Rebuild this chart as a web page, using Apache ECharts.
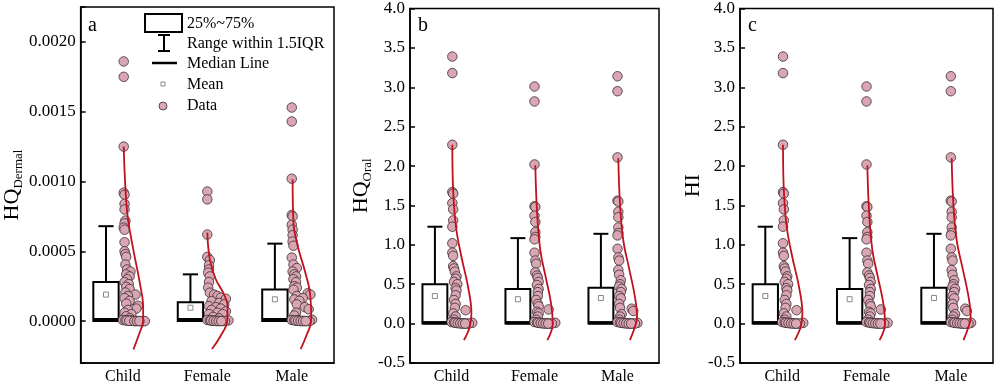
<!DOCTYPE html>
<html>
<head>
<meta charset="utf-8">
<script src="https://cdn.jsdelivr.net/npm/echarts@6/dist/echarts.min.js"></script>
<style>
  html, body { margin: 0; background: #fff; }
  #chart { width: 996px; height: 385px; }
</style>
</head>
<body>
<div id="chart"></div>
<script>
const groups = ['Child', 'Female', 'Male'];

// box stats per group: [q1, median, q3, whisker low, whisker high, mean]
const dermalBox = [
  [0, 0.00001, 0.00028, 0, 0.00068, 0.00019],
  [0, 0.00001, 0.000136, 0, 0.000335, 0.000096],
  [0, 0.00001, 0.000227, 0, 0.000555, 0.000156]
];
const oralBox = [
  [0, 0.01, 0.50, 0, 1.23, 0.35],
  [0, 0.01, 0.44, 0, 1.085, 0.31],
  [0, 0.01, 0.455, 0, 1.14, 0.325]
];
const hiBox = oralBox; // HI is visually identical to HQ_Oral

// HQ dermal points (x1e-3) and their horizontal jitter (category units)
const dermalChild = [1.86, 1.75, 1.25, 0.92, 0.905, 0.84, 0.80, 0.72, 0.70, 0.67, 0.655, 0.565, 0.50, 0.48, 0.46, 0.405, 0.37, 0.355, 0.335, 0.32, 0.30, 0.28, 0.265, 0.245, 0.23, 0.205, 0.19, 0.18, 0.165, 0.145, 0.125, 0.11, 0.09, 0.08, 0.06, 0.05, 0.035, 0.02, 0.008, 0.006, 0.004, 0.003, 0.002, 0.001, 0.001, 0, 0, 0, 0.005, 0.003, 0.002, 0, 0, 0];
const dermalChildJit = [0.01, 0.01, 0.01, 0.01, 0.02, 0.02, 0.02, 0.03, 0.02, 0.01, 0.02, 0.02, 0.02, 0.03, 0.04, 0.03, 0.05, 0.09, 0.04, 0.08, 0.05, 0.02, 0.07, 0.04, 0.08, 0.03, 0.15, 0.06, 0.02, 0.08, 0.04, 0.18, 0.16, 0.06, 0.02, 0.10, 0.04, 0.08, 0.00, 0.03, 0.06, 0.09, 0.12, 0.15, 0.18, 0.21, 0.24, 0.26, 0.045, 0.11, 0.075, 0.135, 0.165, 0.195];
const dermalFemale = [0.928, 0.872, 0.62, 0.46, 0.437, 0.40, 0.37, 0.347, 0.32, 0.28, 0.24, 0.204, 0.19, 0.18, 0.168, 0.16, 0.143, 0.13, 0.12, 0.107, 0.10, 0.09, 0.08, 0.07, 0.06, 0.05, 0.05, 0.03, 0.02, 0.005, 0.008, 0.006, 0.004, 0.003, 0.002, 0.001, 0.001, 0, 0.004, 0.002, 0, 0, 0];
const dermalFemaleJit = [0.0, 0.0, 0.0, 0.0, 0.03, 0.02, 0.02, 0.01, 0.03, 0.02, 0.01, 0.03, 0.08, 0.12, 0.16, 0.22, 0.05, 0.14, 0.20, 0.02, 0.10, 0.16, 0.05, 0.22, 0.12, 0.02, 0.18, 0.07, 0.14, 0.25, 0.0, 0.03, 0.06, 0.09, 0.12, 0.15, 0.18, 0.21, 0.045, 0.075, 0.105, 0.135, 0.165];
const dermalMale = [1.53, 1.43, 1.02, 0.76, 0.75, 0.69, 0.655, 0.615, 0.57, 0.54, 0.455, 0.405, 0.38, 0.355, 0.335, 0.32, 0.30, 0.28, 0.25, 0.24, 0.225, 0.20, 0.19, 0.18, 0.165, 0.155, 0.145, 0.12, 0.10, 0.085, 0.06, 0.04, 0.01, 0.008, 0.006, 0.004, 0.003, 0.002, 0.001, 0.001, 0, 0.004, 0.002, 0, 0, 0];
const dermalMaleJit = [0.0, 0.0, 0.0, 0.0, 0.01, 0.0, 0.01, 0.01, 0.01, 0.02, 0.0, 0.02, 0.06, 0.01, 0.03, 0.05, 0.02, 0.05, 0.03, 0.06, 0.02, 0.19, 0.22, 0.06, 0.13, 0.03, 0.09, 0.06, 0.155, 0.20, 0.05, 0.03, 0.24, 0.0, 0.03, 0.06, 0.09, 0.12, 0.15, 0.18, 0.21, 0.045, 0.075, 0.105, 0.135, 0.165];

// HQ oral points and jitter
const oralChild = [3.39, 3.18, 2.27, 1.67, 1.65, 1.53, 1.45, 1.31, 1.23, 1.02, 0.90, 0.86, 0.73, 0.70, 0.66, 0.60, 0.57, 0.53, 0.50, 0.45, 0.42, 0.36, 0.30, 0.25, 0.20, 0.17, 0.13, 0.09, 0.05, 0.01, 0.02, 0.015, 0.01, 0.008, 0.005, 0.004, 0.002, 0, 0.01, 0.006, 0.003, 0, 0];
const oralChildJit = [0.01, 0.01, 0.01, 0.01, 0.02, 0.01, 0.02, 0.02, 0.01, 0.01, 0.01, 0.02, 0.02, 0.03, 0.04, 0.06, 0.05, 0.03, 0.07, 0.05, 0.06, 0.05, 0.03, 0.05, 0.04, 0.17, 0.02, 0.05, 0.03, 0.25, 0.0, 0.03, 0.06, 0.09, 0.12, 0.15, 0.18, 0.21, 0.045, 0.075, 0.105, 0.135, 0.165];
const oralFemale = [3.01, 2.82, 2.02, 1.49, 1.48, 1.37, 1.29, 1.16, 1.10, 1.07, 0.90, 0.80, 0.76, 0.65, 0.61, 0.58, 0.53, 0.49, 0.44, 0.40, 0.35, 0.30, 0.25, 0.22, 0.18, 0.15, 0.13, 0.09, 0.05, 0.01, 0.02, 0.015, 0.01, 0.008, 0.005, 0.004, 0.002, 0, 0.01, 0.006, 0.003, 0, 0];
const oralFemaleJit = [0.0, 0.0, 0.0, 0.0, 0.01, 0.0, 0.01, 0.01, 0.01, 0.0, 0.0, 0.01, 0.02, 0.01, 0.03, 0.04, 0.05, 0.03, 0.05, 0.04, 0.04, 0.02, 0.04, 0.05, 0.17, 0.03, 0.05, 0.04, 0.02, 0.25, 0.0, 0.03, 0.06, 0.09, 0.12, 0.15, 0.18, 0.21, 0.045, 0.075, 0.105, 0.135, 0.165];
const oralMale = [3.14, 2.95, 2.11, 1.56, 1.55, 1.42, 1.35, 1.22, 1.15, 1.12, 0.95, 0.84, 0.80, 0.68, 0.62, 0.55, 0.50, 0.47, 0.44, 0.40, 0.35, 0.32, 0.25, 0.20, 0.19, 0.16, 0.12, 0.09, 0.05, 0.01, 0.02, 0.015, 0.01, 0.008, 0.005, 0.004, 0.002, 0, 0.01, 0.006, 0.003, 0, 0];
const oralMaleJit = [0.0, 0.0, 0.0, 0.0, 0.01, 0.01, 0.01, 0.01, 0.01, 0.0, 0.0, 0.01, 0.02, 0.01, 0.02, 0.04, 0.03, 0.02, 0.05, 0.04, 0.02, 0.04, 0.02, 0.03, 0.17, 0.19, 0.05, 0.03, 0.02, 0.24, 0.0, 0.03, 0.06, 0.09, 0.12, 0.15, 0.18, 0.21, 0.045, 0.075, 0.105, 0.135, 0.165];

// distribution curves: [value, horizontal offset]
const dermalChildCurve = [[1.25e-3, 0.01], [0.99e-3, 0.027], [0.753e-3, 0.056], [0.514e-3, 0.123], [0.275e-3, 0.20], [0.1e-3, 0.24], [0.0, 0.24], [-0.08e-3, 0.20], [-0.203e-3, 0.125]];
const dermalFemaleCurve = [[0.634e-3, 0.0], [0.44e-3, 0.03], [0.30e-3, 0.10], [0.20e-3, 0.19], [0.108e-3, 0.24], [0.0, 0.235], [-0.108e-3, 0.155], [-0.2e-3, 0.055]];
const dermalMaleCurve = [[1.016e-3, 0.01], [0.705e-3, 0.02], [0.538e-3, 0.07], [0.37e-3, 0.15], [0.204e-3, 0.215], [0.01e-3, 0.23], [-0.108e-3, 0.17], [-0.2e-3, 0.105]];
const oralChildCurve = [[2.27, 0.01], [1.69, 0.02], [1.22, 0.055], [0.845, 0.12], [0.465, 0.20], [0.13, 0.24], [-0.04, 0.22], [-0.21, 0.15]];
const oralFemaleCurve = [[2.01, 0.01], [1.43, 0.03], [0.93, 0.07], [0.59, 0.135], [0.255, 0.20], [0.0, 0.22], [-0.21, 0.155]];
const oralMaleCurve = [[2.10, 0.01], [1.52, 0.03], [1.055, 0.07], [0.676, 0.145], [0.34, 0.21], [0.086, 0.235], [-0.04, 0.21], [-0.21, 0.15]];

const FONT = '"Liberation Serif", "Times New Roman", serif';
const PINK = '#d9a7b4';
const RED = '#c0121e';
const BOX_SHIFT = -0.2;
const BOX_HALF = 0.15;
const CAP_HALF = 0.09;

const toDermal = arr => arr.map(v => v * 1e-3);

const panels = [
  {
    letter: 'a', left: 80, width: 254, min: -0.0003, max: 0.00225, interval: null, dec: 4, step: 0.0005,
    name: '{m|HQ}{s|Dermal}', nameGap: 54,
    box: dermalBox,
    pts: [toDermal(dermalChild), toDermal(dermalFemale), toDermal(dermalMale)],
    jit: [dermalChildJit, dermalFemaleJit, dermalMaleJit],
    curves: [dermalChildCurve, dermalFemaleCurve, dermalMaleCurve]
  },
  {
    letter: 'b', left: 410, width: 249, min: -0.5, max: 4, interval: 0.5, dec: 1, step: 0.5,
    name: '{m|HQ}{s|Oral}', nameGap: 34,
    box: oralBox,
    pts: [oralChild, oralFemale, oralMale],
    jit: [oralChildJit, oralFemaleJit, oralMaleJit],
    curves: [oralChildCurve, oralFemaleCurve, oralMaleCurve]
  },
  {
    letter: 'c', left: 740, width: 253, min: -0.5, max: 4, interval: 0.5, dec: 1, step: 0.5,
    name: '{m|HI}', nameGap: 34,
    box: hiBox,
    pts: [oralChild, oralFemale, oralMale],
    jit: [oralChildJit, oralFemaleJit, oralMaleJit],
    curves: [oralChildCurve, oralFemaleCurve, oralMaleCurve]
  }
];

function renderBox(params, api) {
  const x = api.value(0);
  const y = i => api.coord([x, api.value(i)])[1];
  const cx = api.coord([x, 0])[0];
  const xl = api.coord([x - BOX_HALF, 0])[0];
  const xr = api.coord([x + BOX_HALF, 0])[0];
  const capL = api.coord([x - CAP_HALF, 0])[0];
  const capR = api.coord([x + CAP_HALF, 0])[0];
  const q1 = y(1), med = y(2), q3 = y(3), lo = y(4), hi = y(5), mean = y(6);
  const black = { stroke: '#000', lineWidth: 2, fill: null };
  return {
    type: 'group',
    children: [
      { type: 'line', shape: { x1: cx, y1: q3, x2: cx, y2: hi }, style: black },
      { type: 'line', shape: { x1: capL, y1: hi, x2: capR, y2: hi }, style: black },
      { type: 'line', shape: { x1: cx, y1: q1, x2: cx, y2: lo }, style: black },
      { type: 'rect', shape: { x: xl, y: q3, width: xr - xl, height: q1 - q3 }, style: { fill: '#fff', stroke: '#000', lineWidth: 2 } },
      { type: 'line', shape: { x1: xl, y1: med, x2: xr, y2: med }, style: { stroke: '#000', lineWidth: 3.5 } },
      { type: 'rect', shape: { x: cx - 2.5, y: mean - 2.5, width: 5, height: 5 }, style: { fill: '#fff', stroke: '#888', lineWidth: 1 } }
    ]
  };
}

const xAxis = [];
const yAxis = [];
const series = [];

panels.forEach((p, gi) => {
  xAxis.push({
    type: 'category', gridIndex: gi, data: groups,
    axisLine: { onZero: false, lineStyle: { color: '#000', width: 1.5 } },
    axisTick: { inside: true, alignWithLabel: true, length: 5, lineStyle: { color: '#000', width: 1.5 } },
    axisLabel: { color: '#000', fontFamily: FONT, fontSize: 16, margin: 6 },
    splitLine: { show: false }
  });
  xAxis.push({ type: 'value', gridIndex: gi, min: -0.5, max: 2.5, show: false });

  const y = {
    type: 'value', gridIndex: gi, min: p.min, max: p.max,
    name: p.name, nameLocation: 'middle', nameGap: p.nameGap,
    nameTextStyle: {
      rich: {
        m: { fontFamily: FONT, fontSize: 22, color: '#000', lineHeight: 26, verticalAlign: 'middle' },
        s: { fontFamily: FONT, fontSize: 13, color: '#000', lineHeight: 13, verticalAlign: 'bottom' }
      }
    },
    axisLine: { show: true, onZero: false, lineStyle: { color: '#000', width: 1.5 } },
    axisTick: { show: true, inside: true, length: 5, lineStyle: { color: '#000', width: 1.5 } },
    axisLabel: {
      color: '#000', fontFamily: FONT, fontSize: 17, margin: 5,
      formatter: v => {
        const k = v / p.step;
        return Math.abs(k - Math.round(k)) < 1e-6 ? v.toFixed(p.dec) : '';
      }
    },
    splitLine: { show: false }
  };
  if (p.interval) y.interval = p.interval;
  yAxis.push(y);

  series.push({
    type: 'custom', xAxisIndex: gi * 2 + 1, yAxisIndex: gi, z: 2,
    renderItem: renderBox,
    encode: { x: 0, y: [1, 2, 3, 4, 5, 6] },
    data: p.box.map((b, k) => [k + BOX_SHIFT].concat(b))
  });

  p.pts.forEach((vals, k) => {
    series.push({
      type: 'scatter', xAxisIndex: gi * 2 + 1, yAxisIndex: gi, z: 3,
      symbol: 'circle', symbolSize: 9.5,
      itemStyle: { color: PINK, borderColor: '#3a2b30', borderWidth: 0.8, opacity: 1 },
      data: vals.map((v, i) => [k + p.jit[k][i], v])
    });
  });

  p.curves.forEach((c, k) => {
    series.push({
      type: 'line', xAxisIndex: gi * 2 + 1, yAxisIndex: gi, z: 4,
      showSymbol: false, smooth: 0.4,
      lineStyle: { color: RED, width: 1.8 },
      data: c.map(d => [k + d[1], d[0]])
    });
  });
});

const legendText = (x, y, t) => ({
  type: 'text', x: x, y: y,
  style: { text: t, fontFamily: FONT, fontSize: 16, fill: '#000', verticalAlign: 'middle' }
});

const graphic = [
  // panel letters
  ...panels.map(p => ({
    type: 'text', x: p.left + 8, y: 26,
    style: { text: p.letter, fontFamily: FONT, fontSize: 20, fill: '#000', verticalAlign: 'middle' }
  })),
  // legend in panel a
  { type: 'rect', shape: { x: 145, y: 14, width: 37, height: 18 }, style: { fill: '#fff', stroke: '#000', lineWidth: 2 } },
  legendText(187, 24, '25%~75%'),
  { type: 'line', shape: { x1: 164, y1: 35, x2: 164, y2: 51 }, style: { stroke: '#000', lineWidth: 2 } },
  { type: 'line', shape: { x1: 158, y1: 35, x2: 170, y2: 35 }, style: { stroke: '#000', lineWidth: 2 } },
  { type: 'line', shape: { x1: 158, y1: 51, x2: 170, y2: 51 }, style: { stroke: '#000', lineWidth: 2 } },
  legendText(187, 44, 'Range within 1.5IQR'),
  { type: 'line', shape: { x1: 152, y1: 63, x2: 177, y2: 63 }, style: { stroke: '#000', lineWidth: 2.5 } },
  legendText(187, 64, 'Median Line'),
  { type: 'rect', shape: { x: 161, y: 82, width: 4, height: 4 }, style: { fill: '#fff', stroke: '#888', lineWidth: 1 } },
  legendText(187, 85, 'Mean'),
  { type: 'circle', shape: { cx: 163, cy: 106, r: 4 }, style: { fill: PINK, stroke: '#3a2b30', lineWidth: 0.8 } },
  legendText(187, 106, 'Data')
];

const option = {
  animation: false,
  backgroundColor: '#fff',
  grid: panels.map(p => ({
    left: p.left, top: 7, width: p.width, height: 356,
    show: true, borderColor: '#000', borderWidth: 1.5, backgroundColor: 'transparent'
  })),
  xAxis: xAxis,
  yAxis: yAxis,
  series: series,
  graphic: graphic
};

const chart = echarts.init(document.getElementById('chart'));
chart.setOption(option);
</script>
</body>
</html>
